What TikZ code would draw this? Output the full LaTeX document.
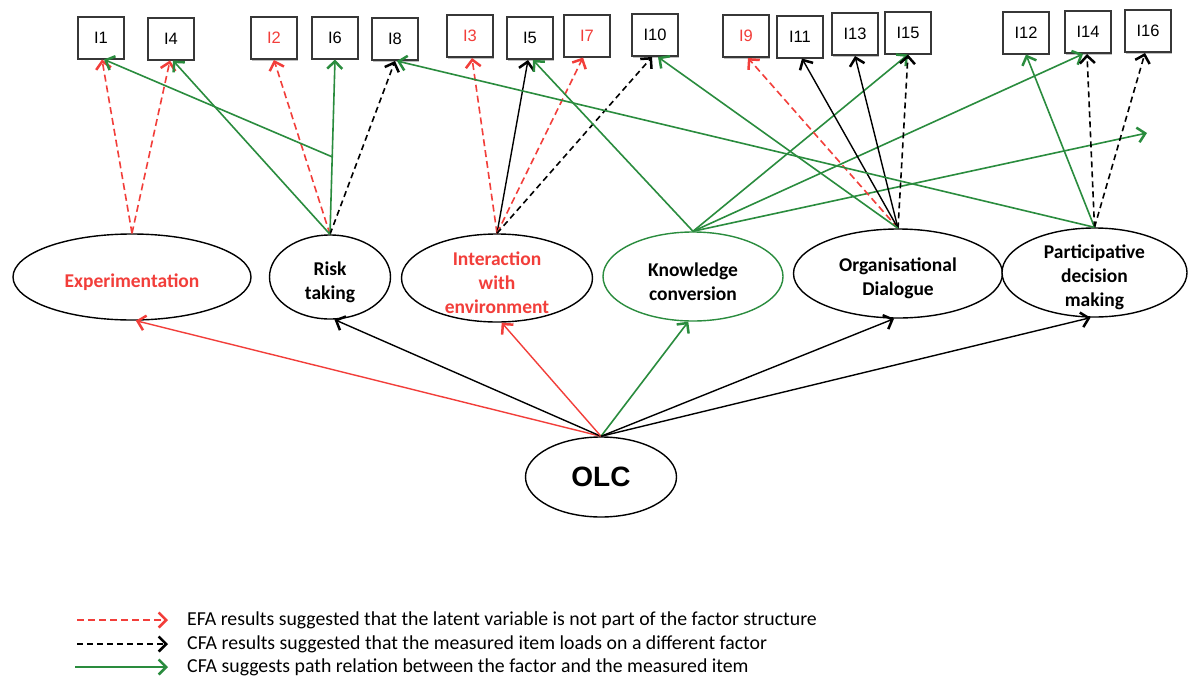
\documentclass[tikz,border=0pt]{standalone}
\usepackage{fontspec}
\setmainfont{Carlito}
\newfontfamily\itemfont{Liberation Sans}
\usetikzlibrary{shapes.geometric,arrows.meta,calc,shadows}
\definecolor{efared}{RGB}{242,62,58}
\definecolor{cfagreen}{RGB}{42,140,62}
\definecolor{boxgray}{RGB}{55,55,55}
\begin{document}
\begin{tikzpicture}[x=1pt,y=-1pt,
  item/.style={draw=boxgray, line width=2pt, fill=white, minimum width=46pt,
    minimum height=42pt, inner sep=0pt, font=\itemfont\fontsize{16.5}{18}\selectfont,
    drop shadow={shadow xshift=1.2pt, shadow yshift=-1.5pt, opacity=0.25, fill=black}},
  factor/.style={ellipse, draw, line width=1.4pt, fill=white, inner sep=0pt},
  flabel/.style={align=center, yshift=-5pt, inner sep=0pt,
    font=\bfseries\fontsize{19.5}{24}\selectfont},
  arrowtip/.style={-{Straight Barb[length=7.5pt,width=15pt,line width=2.5pt]}},
  efa/.style={arrowtip, efared, line width=1.6pt, dash pattern=on 7pt off 4pt},
  cfa/.style={arrowtip, black, line width=1.6pt, dash pattern=on 6pt off 4pt},
  link/.style={arrowtip, cfagreen, line width=1.6pt},
  solidblack/.style={arrowtip, black, line width=1.4pt},
  solidred/.style={arrowtip, efared, line width=1.4pt},
  legtext/.style={anchor=west, inner sep=0pt, font=\fontsize{19.8}{23}\selectfont},
]
\useasboundingbox[fill=white] (0,0) rectangle (1194,680);

% measured items
\node[item] (i1)  at (101,37.5) {I1};
\node[item] (i4)  at (171,38.5) {I4};
\node[item, text=efared] (i2) at (274,38) {I2};
\node[item] (i6)  at (335,37.5) {I6};
\node[item] (i8)  at (395,39) {I8};
\node[item, text=efared] (i3) at (470,36) {I3};
\node[item] (i5)  at (530,38) {I5};
\node[item, text=efared] (i7) at (587,35.5) {I7};
\node[item] (i10) at (655,35) {I10};
\node[item, text=efared] (i9) at (746,36) {I9};
\node[item] (i11) at (800,36.5) {I11};
\node[item] (i13) at (855,34) {I13};
\node[item] (i15) at (908,32.5) {I15};
\node[item] (i12) at (1026,32.5) {I12};
\node[item] (i14) at (1088,32) {I14};
\node[item] (i16) at (1148,31) {I16};

% latent factors
\node[factor, minimum width=238pt, minimum height=86pt,
  label={[flabel, text=efared]center:Experimentation}] (exp) at (132,277) {};
\node[factor, minimum width=121pt, minimum height=84pt,
  label={[flabel]center:Risk\\taking}] (risk) at (330,277) {};
\node[factor, minimum width=191pt, minimum height=88pt,
  label={[flabel, text=efared]center:Interaction\\with\\environment}] (inter) at (497,278) {};
\node[factor, minimum width=180pt, minimum height=89pt, draw=cfagreen,
  label={[flabel]center:Knowledge\\conversion}] (know) at (693,276.5) {};
\node[factor, minimum width=209pt, minimum height=89pt,
  label={[flabel]center:Organisational\\Dialogue}] (org) at (898,273.5) {};
\node[factor, minimum width=185pt, minimum height=89pt,
  label={[flabel]center:Participative\\decision\\making}] (part) at (1094.5,272.5) {};
\node[ellipse, draw, line width=1.4pt, inner sep=0pt, minimum width=151pt, minimum height=80pt,
  font=\itemfont\bfseries\fontsize{28}{30}\selectfont] (olc) at (601,477) {OLC};

% experimentation
\draw[efa] (exp.north) -- ([xshift=1pt]i1.south);
\draw[efa] (exp.north) -- ([xshift=-1pt]i4.south);

% risk taking
\draw[efa] (risk.north) -- (i2.south);
\draw[link] (risk.north) -- (i6.south);
\draw[cfa] (risk.north) -- (i8.south);
\draw[link] (risk.north) -- ([xshift=2pt]i4.south);
\coordinate (rj) at ($(risk.north)!0.443!(i6.south)$);
\draw[link] (rj) -- ([xshift=3pt]i1.south);

% interaction with environment
\draw[efa] (inter.north) -- ([xshift=2pt]i3.south);
\draw[solidblack] (inter.north) -- ([xshift=-2pt]i5.south);
\draw[efa] (inter.north) -- ([xshift=-4pt]i7.south);
\draw[cfa] (inter.north) -- ([xshift=-3pt]i10.south);

% knowledge conversion
\coordinate (kfree) at (1147,133);
\draw[link] (know.north) -- ([xshift=3pt]i5.south);
\draw[link] (know.north) -- (i15.south);
\draw[link] (know.north) -- ([xshift=-5pt]i14.south);
\draw[link] (know.north) -- (kfree);

% organisational dialogue
\draw[efa] (org.north) -- ([xshift=2pt]i9.south);
\draw[solidblack] (org.north) -- ([xshift=2pt]i11.south);
\draw[solidblack] (org.north) -- (i13.south);
\draw[cfa] (org.north) -- (i15.south);
\draw[link] (org.north) -- ([xshift=3pt]i10.south);

% participative decision making
\draw[link] (part.north) -- (i12.south);
\draw[cfa] (part.north) -- ([xshift=-1pt]i14.south);
\draw[cfa] (part.north) -- ([xshift=-3pt]i16.south);
\draw[link] (part.north) -- ([xshift=2pt]i8.south);

% OLC to factors
\draw[solidred] (olc.north) -- (exp.-85);
\draw[solidblack] (olc.north) -- (risk.-84);
\draw[solidred] (olc.north) -- (inter.-84);
\draw[link] (olc.north) -- (know.-96);
\draw[solidblack] (olc.north) -- (org.-95);
\draw[solidblack] (olc.north) -- (part.-95);

% legend
\coordinate (la1) at (77,620);  \coordinate (lb1) at (168,620);
\coordinate (la2) at (77,644);  \coordinate (lb2) at (168,644);
\coordinate (la3) at (75,667);  \coordinate (lb3) at (168,667);
\draw[efa] (la1) -- (lb1);
\draw[cfa] (la2) -- (lb2);
\draw[link, line width=2.2pt] (la3) -- (lb3);
\node[legtext] (t1) at (187,620) {EFA results suggested that the latent variable is not part of the factor structure};
\node[legtext] (t2) at (187,644) {CFA results suggested that the measured item loads on a different factor};
\node[legtext] (t3) at (187,667) {CFA suggests path relation between the factor and the measured item};
\end{tikzpicture}
\end{document}
